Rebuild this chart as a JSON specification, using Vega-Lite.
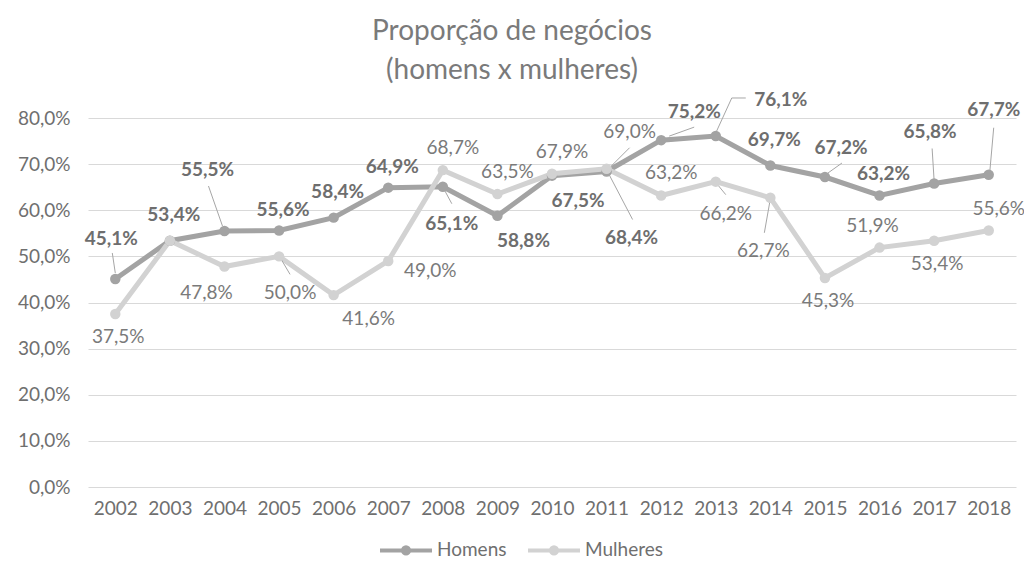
{
  "$schema": "https://vega.github.io/schema/vega-lite/v6.json",
  "autosize": "none",
  "width": 928,
  "height": 369,
  "padding": {"left": 88, "top": 118, "right": 8, "bottom": 83},
  "background": "white",
  "title": {
    "text": ["Proporção de negócios", "(homens x mulheres)"],
    "font": "Lato",
    "fontSize": 28,
    "fontWeight": "normal",
    "color": "#7a7a7a",
    "lineHeight": 39,
    "anchor": "middle",
    "dx": -40,
    "offset": 6
  },
  "data": {
    "values": [
      {"ano": "2002", "serie": "Homens", "v": 45.1},
      {"ano": "2003", "serie": "Homens", "v": 53.4},
      {"ano": "2004", "serie": "Homens", "v": 55.5},
      {"ano": "2005", "serie": "Homens", "v": 55.6},
      {"ano": "2006", "serie": "Homens", "v": 58.4},
      {"ano": "2007", "serie": "Homens", "v": 64.9},
      {"ano": "2008", "serie": "Homens", "v": 65.1},
      {"ano": "2009", "serie": "Homens", "v": 58.8},
      {"ano": "2010", "serie": "Homens", "v": 67.5},
      {"ano": "2011", "serie": "Homens", "v": 68.4},
      {"ano": "2012", "serie": "Homens", "v": 75.2},
      {"ano": "2013", "serie": "Homens", "v": 76.1},
      {"ano": "2014", "serie": "Homens", "v": 69.7},
      {"ano": "2015", "serie": "Homens", "v": 67.2},
      {"ano": "2016", "serie": "Homens", "v": 63.2},
      {"ano": "2017", "serie": "Homens", "v": 65.8},
      {"ano": "2018", "serie": "Homens", "v": 67.7},
      {"ano": "2002", "serie": "Mulheres", "v": 37.5},
      {"ano": "2003", "serie": "Mulheres", "v": 53.4},
      {"ano": "2004", "serie": "Mulheres", "v": 47.8},
      {"ano": "2005", "serie": "Mulheres", "v": 50.0},
      {"ano": "2006", "serie": "Mulheres", "v": 41.6},
      {"ano": "2007", "serie": "Mulheres", "v": 49.0},
      {"ano": "2008", "serie": "Mulheres", "v": 68.7},
      {"ano": "2009", "serie": "Mulheres", "v": 63.5},
      {"ano": "2010", "serie": "Mulheres", "v": 67.9},
      {"ano": "2011", "serie": "Mulheres", "v": 69.0},
      {"ano": "2012", "serie": "Mulheres", "v": 63.2},
      {"ano": "2013", "serie": "Mulheres", "v": 66.2},
      {"ano": "2014", "serie": "Mulheres", "v": 62.7},
      {"ano": "2015", "serie": "Mulheres", "v": 45.3},
      {"ano": "2016", "serie": "Mulheres", "v": 51.9},
      {"ano": "2017", "serie": "Mulheres", "v": 53.4},
      {"ano": "2018", "serie": "Mulheres", "v": 55.6}
    ]
  },
  "transform": [
    {"calculate": "replace(format(datum.v, '.1f'), '.', ',') + '%'", "as": "lbl"}
  ],
  "encoding": {
    "x": {
      "field": "ano", "type": "ordinal",
      "scale": {"type": "point", "padding": 0.5},
      "axis": {"title": null, "labelAngle": 0, "grid": false, "labelPadding": 12}
    },
    "y": {
      "field": "v", "type": "quantitative",
      "scale": {"domain": [0, 80], "nice": false},
      "axis": {
        "title": null,
        "values": [0, 10, 20, 30, 40, 50, 60, 70, 80],
        "labelExpr": "replace(format(datum.value, '.1f'), '.', ',') + '%'",
        "labelPadding": 18
      }
    }
  },
  "layer": [
    {
      "mark": {"type": "line", "strokeWidth": 5},
      "encoding": {
        "color": {
          "field": "serie", "type": "nominal",
          "scale": {"domain": ["Homens", "Mulheres"], "range": ["#a3a3a3", "#d2d2d2"]},
          "legend": {
            "title": null,
            "orient": "none",
            "direction": "horizontal",
            "legendX": 290,
            "legendY": 404,
            "symbolType": "M-1,0L1,0M-0.12,0A0.12,0.12 0 1,0 0.12,0A0.12,0.12 0 1,0 -0.12,0",
            "symbolSize": 2704,
            "symbolStrokeWidth": 4,
            "labelFont": "Lato",
            "labelFontSize": 19,
            "labelColor": "#6f6f6f",
            "labelOffset": 3,
            "columnPadding": 13
          }
        }
      }
    },
    {"transform": [{"filter": "datum.serie=='Homens' && datum.ano=='2002'"}], "mark": {"type": "rule", "color": "#a6a6a6", "strokeWidth": 1, "xOffset": 0, "yOffset": -6, "x2Offset": -3, "y2Offset": -26}, "encoding": {"x2": {"field": "ano"}, "y2": {"field": "v"}}},
    {"transform": [{"filter": "datum.serie=='Homens' && datum.ano=='2004'"}], "mark": {"type": "rule", "color": "#a6a6a6", "strokeWidth": 1, "xOffset": -2, "yOffset": -5, "x2Offset": -16, "y2Offset": -45}, "encoding": {"x2": {"field": "ano"}, "y2": {"field": "v"}}},
    {"transform": [{"filter": "datum.serie=='Homens' && datum.ano=='2008'"}], "mark": {"type": "rule", "color": "#a6a6a6", "strokeWidth": 1, "xOffset": 2, "yOffset": 4, "x2Offset": 9, "y2Offset": 17}, "encoding": {"x2": {"field": "ano"}, "y2": {"field": "v"}}},
    {"transform": [{"filter": "datum.serie=='Homens' && datum.ano=='2011'"}], "mark": {"type": "rule", "color": "#a6a6a6", "strokeWidth": 1, "xOffset": 3, "yOffset": 4, "x2Offset": 26, "y2Offset": 48}, "encoding": {"x2": {"field": "ano"}, "y2": {"field": "v"}}},
    {"transform": [{"filter": "datum.serie=='Homens' && datum.ano=='2012'"}], "mark": {"type": "rule", "color": "#a6a6a6", "strokeWidth": 1, "xOffset": 8, "yOffset": -4, "x2Offset": 33, "y2Offset": -13}, "encoding": {"x2": {"field": "ano"}, "y2": {"field": "v"}}},
    {"transform": [{"filter": "datum.serie=='Homens' && datum.ano=='2013'"}], "mark": {"type": "rule", "color": "#a6a6a6", "strokeWidth": 1, "xOffset": 0, "yOffset": -3, "x2Offset": 16, "y2Offset": -38}, "encoding": {"x2": {"field": "ano"}, "y2": {"field": "v"}}},
    {"transform": [{"filter": "datum.serie=='Homens' && datum.ano=='2013'"}], "mark": {"type": "rule", "color": "#a6a6a6", "strokeWidth": 1, "xOffset": 16, "yOffset": -38, "x2Offset": 30, "y2Offset": -38}, "encoding": {"x2": {"field": "ano"}, "y2": {"field": "v"}}},
    {"transform": [{"filter": "datum.serie=='Homens' && datum.ano=='2015'"}], "mark": {"type": "rule", "color": "#a6a6a6", "strokeWidth": 1, "xOffset": 3, "yOffset": -4, "x2Offset": 17, "y2Offset": -14}, "encoding": {"x2": {"field": "ano"}, "y2": {"field": "v"}}},
    {"transform": [{"filter": "datum.serie=='Homens' && datum.ano=='2017'"}], "mark": {"type": "rule", "color": "#a6a6a6", "strokeWidth": 1, "xOffset": 0, "yOffset": -3, "x2Offset": -2, "y2Offset": -35}, "encoding": {"x2": {"field": "ano"}, "y2": {"field": "v"}}},
    {"transform": [{"filter": "datum.serie=='Homens' && datum.ano=='2018'"}], "mark": {"type": "rule", "color": "#a6a6a6", "strokeWidth": 1, "xOffset": 1, "yOffset": -2, "x2Offset": 5, "y2Offset": -47}, "encoding": {"x2": {"field": "ano"}, "y2": {"field": "v"}}},
    {"transform": [{"filter": "datum.serie=='Mulheres' && datum.ano=='2005'"}], "mark": {"type": "rule", "color": "#a6a6a6", "strokeWidth": 1, "xOffset": 1, "yOffset": 1, "x2Offset": 11, "y2Offset": 18}, "encoding": {"x2": {"field": "ano"}, "y2": {"field": "v"}}},
    {"transform": [{"filter": "datum.serie=='Mulheres' && datum.ano=='2011'"}], "mark": {"type": "rule", "color": "#a6a6a6", "strokeWidth": 1, "xOffset": 3, "yOffset": -1, "x2Offset": 23, "y2Offset": -21}, "encoding": {"x2": {"field": "ano"}, "y2": {"field": "v"}}},
    {"transform": [{"filter": "datum.serie=='Mulheres' && datum.ano=='2013'"}], "mark": {"type": "rule", "color": "#a6a6a6", "strokeWidth": 1, "xOffset": 1, "yOffset": 2, "x2Offset": 10, "y2Offset": 13}, "encoding": {"x2": {"field": "ano"}, "y2": {"field": "v"}}},
    {"transform": [{"filter": "datum.serie=='Mulheres' && datum.ano=='2014'"}], "mark": {"type": "rule", "color": "#a6a6a6", "strokeWidth": 1, "xOffset": 0, "yOffset": 1, "x2Offset": -6, "y2Offset": 35}, "encoding": {"x2": {"field": "ano"}, "y2": {"field": "v"}}},
    {
      "mark": {"type": "point", "filled": true, "size": 110, "opacity": 1},
      "encoding": {
        "color": {"field": "serie", "type": "nominal", "legend": null}
      }
    },
    {"transform": [{"filter": "datum.serie=='Homens' && indexof(['2003','2006','2014'], datum.ano) >= 0"}], "mark": {"type": "text", "font": "Lato", "fontSize": 19, "fontWeight": "bold", "fill": "#6e6e6e", "baseline": "middle", "dx": 4, "dy": -26}, "encoding": {"text": {"field": "lbl"}}},
    {"transform": [{"filter": "datum.serie=='Homens' && indexof(['2005','2007','2016'], datum.ano) >= 0"}], "mark": {"type": "text", "font": "Lato", "fontSize": 19, "fontWeight": "bold", "fill": "#6e6e6e", "baseline": "middle", "dx": 4, "dy": -21}, "encoding": {"text": {"field": "lbl"}}},
    {"transform": [{"filter": "datum.serie=='Homens' && datum.ano=='2015'"}], "mark": {"type": "text", "font": "Lato", "fontSize": 19, "fontWeight": "bold", "fill": "#6e6e6e", "baseline": "middle", "dx": 16, "dy": -29}, "encoding": {"text": {"field": "lbl"}}},
    {"transform": [{"filter": "datum.serie=='Homens' && datum.ano=='2002'"}], "mark": {"type": "text", "font": "Lato", "fontSize": 19, "fontWeight": "bold", "fill": "#6e6e6e", "baseline": "middle", "dx": -4, "dy": -40}, "encoding": {"text": {"field": "lbl"}}},
    {"transform": [{"filter": "datum.serie=='Homens' && datum.ano=='2004'"}], "mark": {"type": "text", "font": "Lato", "fontSize": 19, "fontWeight": "bold", "fill": "#6e6e6e", "baseline": "middle", "dx": -17, "dy": -61}, "encoding": {"text": {"field": "lbl"}}},
    {"transform": [{"filter": "datum.serie=='Homens' && datum.ano=='2008'"}], "mark": {"type": "text", "font": "Lato", "fontSize": 19, "fontWeight": "bold", "fill": "#6e6e6e", "baseline": "middle", "dx": 9, "dy": 37}, "encoding": {"text": {"field": "lbl"}}},
    {"transform": [{"filter": "datum.serie=='Homens' && indexof(['2009','2010'], datum.ano) >= 0"}], "mark": {"type": "text", "font": "Lato", "fontSize": 19, "fontWeight": "bold", "fill": "#6e6e6e", "baseline": "middle", "dx": 26, "dy": 25}, "encoding": {"text": {"field": "lbl"}}},
    {"transform": [{"filter": "datum.serie=='Homens' && datum.ano=='2011'"}], "mark": {"type": "text", "font": "Lato", "fontSize": 19, "fontWeight": "bold", "fill": "#6e6e6e", "baseline": "middle", "dx": 25, "dy": 66}, "encoding": {"text": {"field": "lbl"}}},
    {"transform": [{"filter": "datum.serie=='Homens' && datum.ano=='2012'"}], "mark": {"type": "text", "font": "Lato", "fontSize": 19, "fontWeight": "bold", "fill": "#6e6e6e", "baseline": "middle", "dx": 33, "dy": -28}, "encoding": {"text": {"field": "lbl"}}},
    {"transform": [{"filter": "datum.serie=='Homens' && datum.ano=='2013'"}], "mark": {"type": "text", "font": "Lato", "fontSize": 19, "fontWeight": "bold", "fill": "#6e6e6e", "baseline": "middle", "dx": 65, "dy": -36}, "encoding": {"text": {"field": "lbl"}}},
    {"transform": [{"filter": "datum.serie=='Homens' && datum.ano=='2017'"}], "mark": {"type": "text", "font": "Lato", "fontSize": 19, "fontWeight": "bold", "fill": "#6e6e6e", "baseline": "middle", "dx": -4, "dy": -51}, "encoding": {"text": {"field": "lbl"}}},
    {"transform": [{"filter": "datum.serie=='Homens' && datum.ano=='2018'"}], "mark": {"type": "text", "font": "Lato", "fontSize": 19, "fontWeight": "bold", "fill": "#6e6e6e", "baseline": "middle", "dx": 5, "dy": -65}, "encoding": {"text": {"field": "lbl"}}},
    {"transform": [{"filter": "datum.serie=='Mulheres' && indexof(['2002','2015','2017'], datum.ano) >= 0"}], "mark": {"type": "text", "font": "Lato", "fontSize": 19, "fill": "#7a7a7a", "baseline": "middle", "dx": 3, "dy": 23}, "encoding": {"text": {"field": "lbl"}}},
    {"transform": [{"filter": "datum.serie=='Mulheres' && datum.ano=='2004'"}], "mark": {"type": "text", "font": "Lato", "fontSize": 19, "fill": "#7a7a7a", "baseline": "middle", "dx": -18, "dy": 26}, "encoding": {"text": {"field": "lbl"}}},
    {"transform": [{"filter": "datum.serie=='Mulheres' && datum.ano=='2005'"}], "mark": {"type": "text", "font": "Lato", "fontSize": 19, "fill": "#7a7a7a", "baseline": "middle", "dx": 11, "dy": 37}, "encoding": {"text": {"field": "lbl"}}},
    {"transform": [{"filter": "datum.serie=='Mulheres' && datum.ano=='2006'"}], "mark": {"type": "text", "font": "Lato", "fontSize": 19, "fill": "#7a7a7a", "baseline": "middle", "dx": 35, "dy": 24}, "encoding": {"text": {"field": "lbl"}}},
    {"transform": [{"filter": "datum.serie=='Mulheres' && datum.ano=='2007'"}], "mark": {"type": "text", "font": "Lato", "fontSize": 19, "fill": "#7a7a7a", "baseline": "middle", "dx": 42, "dy": 10}, "encoding": {"text": {"field": "lbl"}}},
    {"transform": [{"filter": "datum.serie=='Mulheres' && indexof(['2008','2009','2010','2012','2018'], datum.ano) >= 0"}], "mark": {"type": "text", "font": "Lato", "fontSize": 19, "fill": "#7a7a7a", "baseline": "middle", "dx": 10, "dy": -22}, "encoding": {"text": {"field": "lbl"}}},
    {"transform": [{"filter": "datum.serie=='Mulheres' && datum.ano=='2016'"}], "mark": {"type": "text", "font": "Lato", "fontSize": 19, "fill": "#7a7a7a", "baseline": "middle", "dx": -7, "dy": -22}, "encoding": {"text": {"field": "lbl"}}},
    {"transform": [{"filter": "datum.serie=='Mulheres' && datum.ano=='2011'"}], "mark": {"type": "text", "font": "Lato", "fontSize": 19, "fill": "#7a7a7a", "baseline": "middle", "dx": 23, "dy": -37}, "encoding": {"text": {"field": "lbl"}}},
    {"transform": [{"filter": "datum.serie=='Mulheres' && datum.ano=='2013'"}], "mark": {"type": "text", "font": "Lato", "fontSize": 19, "fill": "#7a7a7a", "baseline": "middle", "dx": 10, "dy": 32}, "encoding": {"text": {"field": "lbl"}}},
    {"transform": [{"filter": "datum.serie=='Mulheres' && datum.ano=='2014'"}], "mark": {"type": "text", "font": "Lato", "fontSize": 19, "fill": "#7a7a7a", "baseline": "middle", "dx": -7, "dy": 53}, "encoding": {"text": {"field": "lbl"}}}
  ],
  "config": {
    "view": {"stroke": null},
    "axis": {
      "domain": false,
      "ticks": false,
      "gridColor": "#d9d9d9",
      "gridWidth": 1,
      "labelFont": "Lato",
      "labelFontSize": 19,
      "labelColor": "#6f6f6f"
    }
  }
}
